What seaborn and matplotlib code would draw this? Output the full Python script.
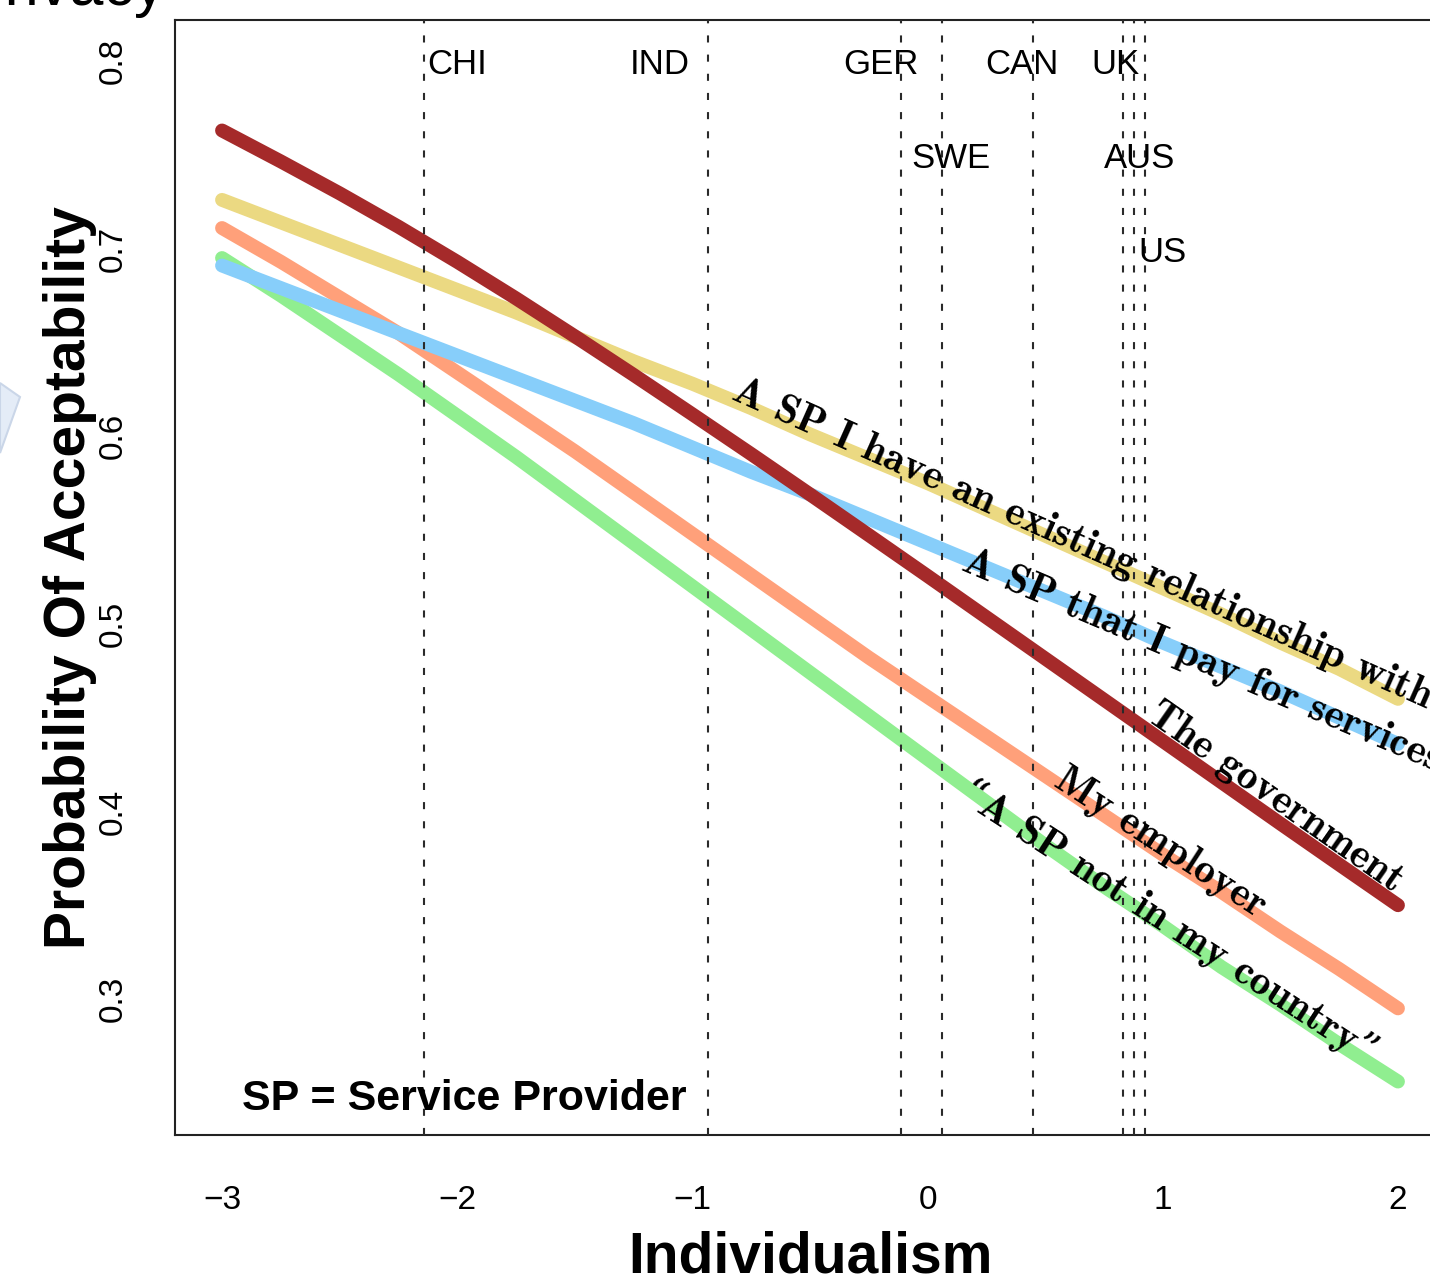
import numpy as np
import pandas as pd
import seaborn as sns
import matplotlib.pyplot as plt
from matplotlib.patches import Polygon

# values (every 0.25 on the x axis)
individualism = [-3.0, -2.75, -2.5, -2.25, -2.0, -1.75, -1.5, -1.25, -1.0, -0.75, -0.5,
                 -0.25, 0.0, 0.25, 0.5, 0.75, 1.0, 1.25, 1.5, 1.75, 2.0]
prob_not_in_country = [0.695, 0.675, 0.654, 0.633, 0.611, 0.589, 0.566, 0.543, 0.520, 0.497, 0.474,
                       0.451, 0.428, 0.405, 0.382, 0.360, 0.339, 0.317, 0.297, 0.276, 0.256]
prob_employer = [0.711, 0.693, 0.674, 0.655, 0.634, 0.613, 0.592, 0.570, 0.548, 0.526, 0.504,
                 0.482, 0.461, 0.440, 0.419, 0.398, 0.377, 0.357, 0.336, 0.316, 0.295]
prob_existing = [0.726, 0.714, 0.702, 0.690, 0.678, 0.666, 0.653, 0.640, 0.628, 0.615, 0.601,
                 0.588, 0.575, 0.561, 0.547, 0.533, 0.519, 0.505, 0.490, 0.476, 0.460]
prob_pay = [0.691, 0.679, 0.667, 0.655, 0.643, 0.631, 0.619, 0.607, 0.594, 0.581, 0.569,
            0.556, 0.543, 0.530, 0.517, 0.504, 0.490, 0.477, 0.464, 0.450, 0.436]
prob_government = [0.763, 0.7465, 0.7295, 0.7117, 0.693, 0.6735, 0.6533, 0.6327, 0.6117, 0.5905, 0.569,
                   0.5473, 0.5255, 0.5035, 0.4815, 0.4595, 0.4375, 0.4155, 0.3935, 0.3717, 0.350]

targets = ['not in my country', 'employer', 'existing relationship', 'pay for services', 'government']
colors = ['#90EE90', '#FFA07A', '#EBD982', '#87CEFA', '#A52A2A']

curve_labels = ['\u201cA SP not in my country\u201d', 'My employer',
                'A SP I have an existing relationship with',
                'A SP that I pay for services', 'The government']
curve_label_x = [0.126, 0.53, -0.84, 0.14, 0.925]
curve_label_y = [0.4066, 0.414, 0.620, 0.529, 0.449]
curve_label_rot = [-33, -33, -24, -23, -35]

countries = ['CHI', 'IND', 'GER', 'SWE', 'CAN', 'UK', 'AUS', 'US']
country_idv = [-2.143, -0.932, -0.113, 0.063, 0.449, 0.832, 0.879, 0.924]
country_label_x = [-2.0, -1.14, -0.2, 0.1, 0.4, 0.8, 0.9, 1.0]
country_label_y = [0.80, 0.80, 0.80, 0.75, 0.80, 0.80, 0.75, 0.70]

series = [prob_not_in_country, prob_employer, prob_existing, prob_pay, prob_government]
df = pd.concat([pd.DataFrame({'individualism': individualism, 'prob': vals, 'target': t})
                for t, vals in zip(targets, series)], ignore_index=True)

sns.set_style('white')
plt.rcParams['font.family'] = ['Liberation Sans', 'DejaVu Sans']
plt.rcParams['text.color'] = 'black'
plt.rcParams['axes.labelcolor'] = 'black'
plt.rcParams['xtick.color'] = 'black'
plt.rcParams['ytick.color'] = 'black'

fig = plt.figure(figsize=(14.3, 12.84), dpi=100)
ax = fig.add_axes([175 / 1430, 149 / 1284, 1270 / 1430, 1115 / 1284])

sns.lineplot(data=df, x='individualism', y='prob', hue='target', hue_order=targets,
             palette=dict(zip(targets, colors)), linewidth=10, legend=False,
             solid_capstyle='round', solid_joinstyle='round', sort=False, ax=ax, zorder=2)

for xv in country_idv:
    ax.axvline(xv, color='#2a2a2a', lw=1.5, ls=(0, (3.4, 5.8)), zorder=3)

for name, lx, ly in zip(countries, country_label_x, country_label_y):
    ax.text(lx, ly - 0.002, name, ha='center', va='center', fontsize=25, zorder=4)

for lab, lx, ly, rot in zip(curve_labels, curve_label_x, curve_label_y, curve_label_rot):
    ax.text(lx, ly, lab, rotation=rot, rotation_mode='anchor', ha='left', va='baseline',
            fontsize=30, family=['cmb10', 'DejaVu Serif'], zorder=5)

ax.text(-2.915, 0.2408, 'SP = Service Provider', fontsize=31, fontweight='bold',
        ha='left', va='baseline', zorder=5)

ax.set_xlim(-3.2, 2.2)
ax.set_ylim(0.2275, 0.8219)
ax.set_xticks([-3, -2, -1, 0, 1, 2])
ax.set_xticklabels(['\u22123', '\u22122', '\u22121', '0', '1', '2'])
ax.set_yticks([0.3, 0.4, 0.5, 0.6, 0.7, 0.8])
ax.set_yticklabels(['0.3', '0.4', '0.5', '0.6', '0.7', '0.8'], rotation=90, va='center')
ax.tick_params(direction='out', length=16, width=1.4, color='#222222', labelsize=24)
ax.tick_params(axis='x', pad=20)
ax.tick_params(axis='y', pad=17)

for sp in ax.spines.values():
    sp.set_linewidth(1.5)
    sp.set_color('#222222')

ax.set_xlabel('Individualism', fontsize=41, fontweight='bold')
ax.set_ylabel('Probability Of Acceptability', fontsize=41, fontweight='bold')
ax.xaxis.set_label_coords(0.5, -0.086)
ax.yaxis.set_label_coords(-0.0614, 0.5)

# cut-off title above and the callout shape on the left edge
fig.text(165 / 1430, 1 - 5 / 1284, 'Privacy', ha='right', va='baseline', fontsize=44)
fig.patches.append(Polygon([(0, 1 - 383 / 1284), (20 / 1430, 1 - 397 / 1284), (0, 1 - 453 / 1284)],
                           closed=True, facecolor='#E4ECF7', edgecolor='#CAD6E8', lw=1.5,
                           transform=fig.transFigure, figure=fig))

fig.savefig('out.png', dpi=100)
